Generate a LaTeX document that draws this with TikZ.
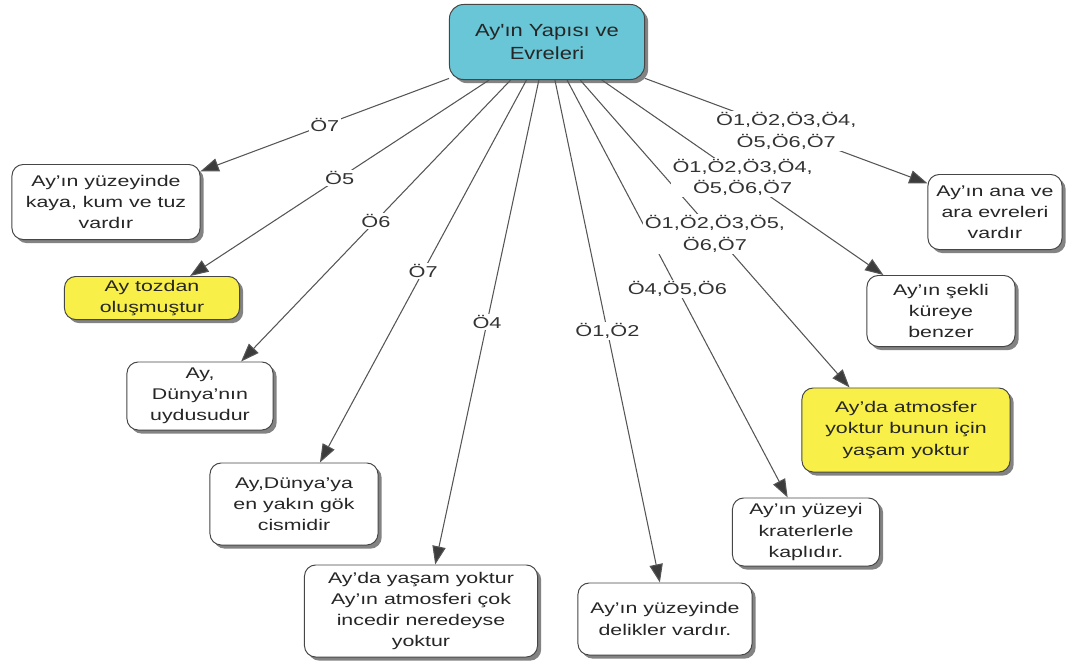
\documentclass[tikz,border=0pt]{standalone}
\usepackage{fontspec}
\setmainfont{Liberation Sans}[FakeStretch=1.38]
\newfontfamily\titlefont{Liberation Sans}[FakeStretch=1.25]
\usetikzlibrary{arrows.meta,shadows}
\definecolor{rootblue}{RGB}{104,198,214}
\definecolor{noteyellow}{RGB}{248,240,72}
\definecolor{linegray}{RGB}{85,85,85}
\definecolor{framegray}{RGB}{70,70,70}
\definecolor{tipgray}{RGB}{60,60,60}

\begin{document}
\begin{tikzpicture}[x=0.025cm,y=-0.025cm,
  box/.style={draw=framegray, line width=0.7pt, rounded corners=8pt, fill=white,
    align=center, inner sep=2pt, font=\fontsize{11}{15}\selectfont, text=black!85,
    drop shadow={shadow xshift=2.6pt, shadow yshift=-2.6pt, fill=black!65, opacity=0.75}},
  hot/.style={box, fill=noteyellow},
  link/.style={draw=linegray, line width=0.75pt,
    -{Triangle[length=13pt,width=9.5pt,fill=tipgray]}},
  tag/.style={fill=white, inner sep=1pt, align=center,
    font=\fontsize{11.2}{15.5}\selectfont, text=black!80},
]
\useasboundingbox (0,0) rectangle (1080,671);

% central topic
\node[box, fill=rootblue, minimum width=4.875cm, minimum height=1.875cm, rounded corners=10pt,
  font=\titlefont\fontsize{12.5}{16.5}\selectfont] (root) at (547,42) {Ay'ın Yapısı ve\\Evreleri};

% statements about the Moon
\node[box, minimum width=4.7cm, minimum height=1.875cm] (n1) at (106,202) {Ay'ın yüzeyinde\\kaya, kum ve tuz\\vardır};
\node[hot, minimum width=4.375cm, minimum height=1.075cm] (n2) at (152,298) {Ay tozdan\\oluşmuştur};
\node[box, minimum width=3.65cm, minimum height=1.7cm] (n3) at (200,396) {Ay,\\Dünya'nın\\uydusudur};
\node[box, minimum width=4.2cm, minimum height=2.05cm] (n4) at (294,504) {Ay,Dünya'ya\\en yakın gök\\cismidir};
\node[box, minimum width=5.825cm, minimum height=2.3cm] (n5) at (421,611) {Ay'da yaşam yoktur\\Ay'ın atmosferi çok\\incedir neredeyse\\yoktur};
\node[box, minimum width=4.35cm, minimum height=1.8cm] (n6) at (665,619) {Ay'ın yüzeyinde\\delikler vardır.};
\node[box, minimum width=3.675cm, minimum height=1.7cm] (n7) at (806,532) {Ay'ın yüzeyi\\kraterlerle\\kaplıdır.};
\node[hot, minimum width=5.2cm, minimum height=2.1cm] (n8) at (906,430) {Ay'da atmosfer\\yoktur bunun için\\yaşam yoktur};
\node[box, minimum width=3.7cm, minimum height=1.775cm] (n9) at (941,311) {Ay'ın şekli\\küreye\\benzer};
\node[box, minimum width=3.35cm, minimum height=1.875cm] (n10) at (995,212) {Ay'ın ana ve\\ara evreleri\\vardır};

% labelled links
\draw[link] (root) -- node[tag]{Ö7} (n1.18);
\draw[link] (root) -- node[tag]{Ö5} (n2.30);
\draw[link] (root) -- node[tag]{Ö6} (n3.40);
\draw[link] (root) -- node[tag]{Ö7} (n4.58);
\draw[link] (root) -- node[tag]{Ö4} (n5.73);
\draw[link] (root) -- node[tag]{Ö1,Ö2} (n6.98);
\draw[link] (root) -- node[tag]{Ö4,Ö5,Ö6} (n7.118);
\draw[link] (root) -- node[tag]{Ö1,Ö2,Ö3,Ö5,\\Ö6,Ö7} (n8.143);
\draw[link] (root) -- node[tag]{Ö1,Ö2,Ö3,Ö4,\\Ö5,Ö6,Ö7} (n9.148);
\draw[link] (root) -- node[tag]{Ö1,Ö2,Ö3,Ö4,\\Ö5,Ö6,Ö7} (n10.157);
\end{tikzpicture}
\end{document}
